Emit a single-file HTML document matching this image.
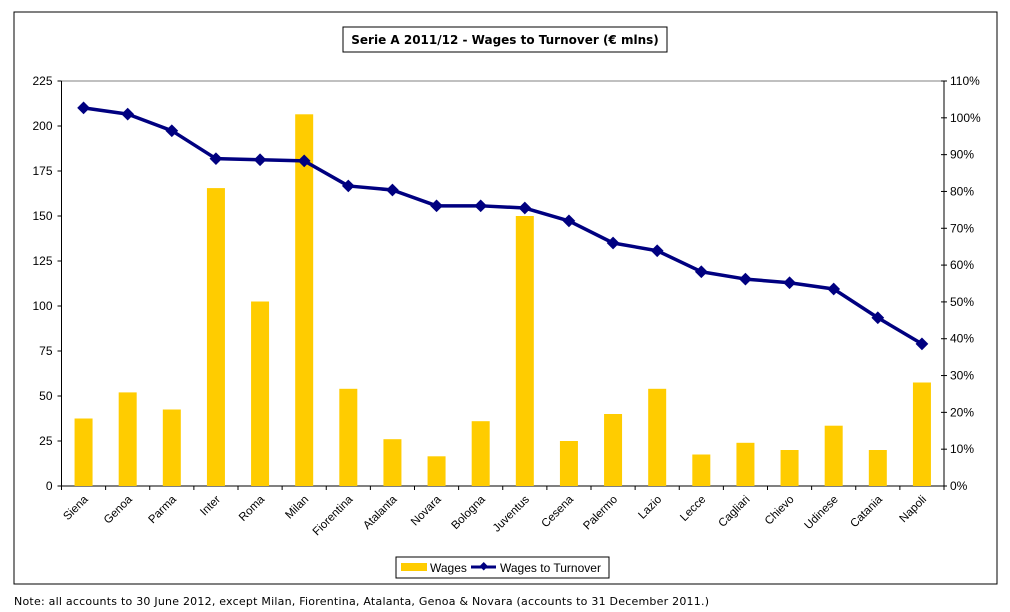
<!DOCTYPE html>
<html><head><meta charset="utf-8"><style>
body{margin:0;background:#fff;width:1010px;height:612px;overflow:hidden;font-family:"Liberation Sans",sans-serif}
svg{position:absolute;left:0;top:0}
</style></head><body>
<svg width="1010" height="612">
<rect x="14" y="12" width="983" height="572" fill="#fff" stroke="#000" stroke-width="1"/>
<rect x="343" y="27" width="324" height="25" fill="#fff" stroke="#000"/>
<text x="505" y="44" text-anchor="middle" font-family="DejaVu Sans,sans-serif" font-weight="bold" font-size="12">Serie A 2011/12 - Wages to Turnover (€ mlns)</text>
<g id="g"></g>
<rect x="396" y="557" width="213" height="21" fill="#fff" stroke="#000"/>
<rect x="401" y="563" width="26" height="8" fill="#ffcc00"/>
<text x="430" y="572" font-size="12">Wages</text>
<line x1="471" y1="567" x2="496" y2="567" stroke="#000080" stroke-width="3"/>
<rect x="480" y="563" width="6" height="6" fill="#000080" transform="rotate(45 483 567)"/>
<text x="500" y="572" font-size="12">Wages to Turnover</text>
<text x="14" y="605" font-family="DejaVu Sans,sans-serif" font-size="11" textLength="695" lengthAdjust="spacing">Note: all accounts to 30 June 2012, except Milan, Fiorentina, Atalanta, Genoa &amp; Novara (accounts to 31 December 2011.)</text>
</svg>
<script>
const categories=["Siena","Genoa","Parma","Inter","Roma","Milan","Fiorentina","Atalanta","Novara","Bologna","Juventus","Cesena","Palermo","Lazio","Lecce","Cagliari","Chievo","Udinese","Catania","Napoli"];
const wages=[37.5,52,42.5,165.5,102.5,206.5,54,26,16.5,36,150,25,40,54,17.5,24,20,33.5,20,57.5];
const ratio=[102.7,101,96.5,88.9,88.6,88.3,81.5,80.4,76.1,76.1,75.5,72,66,63.9,58.2,56.2,55.2,53.5,45.7,38.6];
const leftTicks=[0,25,50,75,100,125,150,175,200,225];
const rightTicks=[0,10,20,30,40,50,60,70,80,90,100,110];
const X0=61.5,X1=944,Y0=486,Y1=81;
const step=(X1-X0)/categories.length;
const xc=i=>X0+step*(i+0.5);
const yL=v=>Y0-(v/225)*(Y0-Y1);
const yR=v=>Y0-(v/110)*(Y0-Y1);
const NS="http://www.w3.org/2000/svg";
const g=document.getElementById('g');
function mk(t,a){const e=document.createElementNS(NS,t);for(const k in a)e.setAttribute(k,a[k]);g.appendChild(e);return e;}
let e;
e=mk('line',{x1:X0,y1:Y1,x2:X1,y2:Y1,stroke:'#808080'});


e=mk('line',{x1:X0,y1:Y1,x2:X0,y2:Y0,stroke:'#000'});


e=mk('line',{x1:X1,y1:Y1,x2:X1,y2:Y0,stroke:'#000'});


e=mk('line',{x1:X0,y1:Y0,x2:X1,y2:Y0,stroke:'#000'});


leftTicks.forEach(v=>{
  e=mk('line',{x1:X0-4,y1:yL(v),x2:X0,y2:yL(v),stroke:'#000'});
  
  
  e=mk('text',{x:X0-9,y:yL(v)+4,'text-anchor':'end','font-size':'12'});e.textContent=v;
  
  
});
rightTicks.forEach(v=>{
  e=mk('line',{x1:X1-3,y1:yR(v),x2:X1+3,y2:yR(v),stroke:'#000'});
  
  
  e=mk('text',{x:X1+6,y:yR(v)+4,'font-size':'12'});e.textContent=v+'%';
  
  
});
for(let i=0;i<=categories.length;i++){
  e=mk('line',{x1:X0+step*i,y1:Y0,x2:X0+step*i,y2:Y0+4,stroke:'#000'});
  
  
}
categories.forEach((c,i)=>{
  const x=xc(i);
  e=mk('rect',{x:x-9,y:yL(wages[i]),width:18,height:Y0-yL(wages[i]),fill:'#ffcc00'});
  
  
  e=mk('text',{x:x+5,y:Y0+14,'text-anchor':'end','font-size':'11.5',transform:`rotate(-45 ${x+5} ${Y0+14})`});e.textContent=c;
  
  
});
e=mk('polyline',{points:ratio.map((v,i)=>xc(i)+','+yR(v)).join(' '),fill:'none',stroke:'#000080','stroke-width':3.5,'stroke-linejoin':'round'});


ratio.forEach((v,i)=>{
  const x=xc(i),y=yR(v);
  e=mk('rect',{x:x-4.5,y:y-4.5,width:9,height:9,fill:'#000080',transform:`rotate(45 ${x} ${y})`});
  
  
});
</script>
</body></html>
